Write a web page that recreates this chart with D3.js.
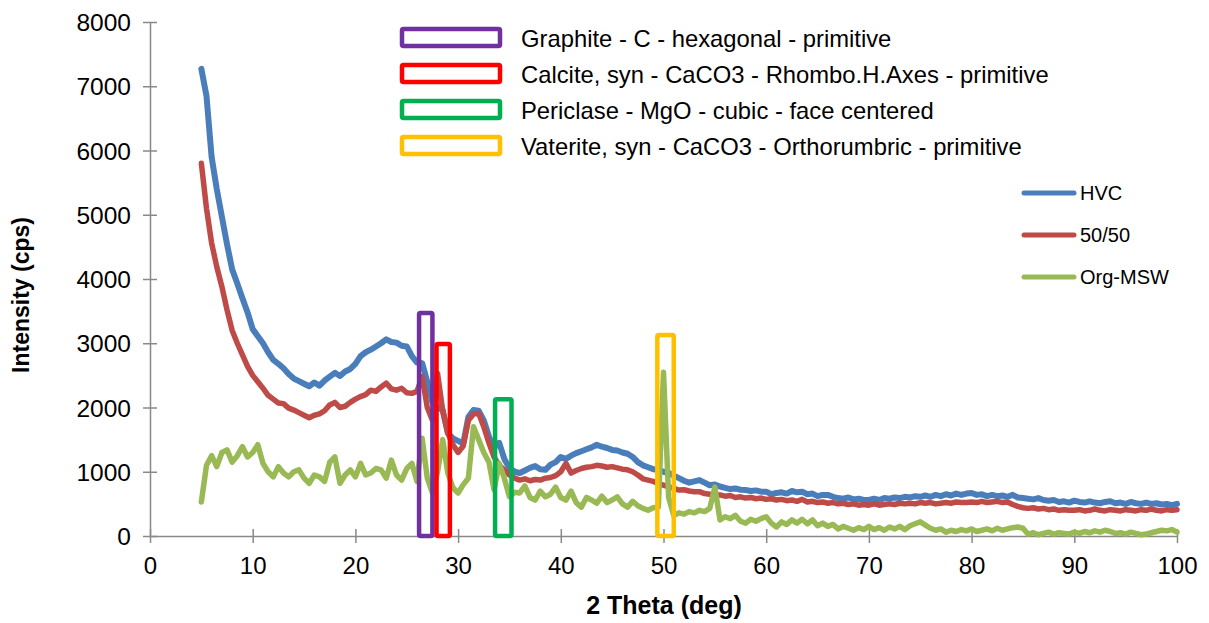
<!DOCTYPE html>
<html>
<head>
<meta charset="utf-8">
<script src="https://cdn.jsdelivr.net/npm/d3@7"></script>
<style>
  body { margin: 0; background: #fff; }
  text { font-family: "Liberation Sans", Arial, sans-serif; }
</style>
</head>
<body>
<script>
// 2 theta sampling grid: start at 5 deg, one reading every 0.5 deg up to 100
const thetaStart = 5;
const thetaStep = 0.5;

const hvc = [
  7270, 6850, 5900, 5400, 4970, 4540, 4150, 3930, 3700, 3480,
  3220, 3110, 3000, 2860, 2740, 2680, 2610, 2520, 2450, 2410,
  2370, 2330, 2390, 2340, 2420, 2480, 2540, 2490, 2560, 2600,
  2680, 2800, 2860, 2900, 2950, 3000, 3060, 3020, 3010, 2960,
  2950, 2800, 2700, 2690, 2400, 2080, 2000, 1960, 1600, 1520,
  1480, 1440, 1850, 1960, 1950, 1800, 1550, 1380, 1450, 1200,
  1060, 1000, 980, 1020, 1060, 1090, 1040, 1030, 1110, 1150,
  1230, 1200, 1250, 1290, 1320, 1350, 1380, 1420, 1390, 1370,
  1340, 1330, 1300, 1280, 1230, 1150, 1100, 1070, 1040, 1030,
  1000, 980, 940, 900, 860, 830, 850, 870, 830, 790,
  800, 770, 750, 730, 740, 720, 715, 700, 710, 690,
  690, 650, 670, 680, 660, 700, 680, 690, 650, 660,
  620, 640, 640, 610, 590, 580, 600, 570, 580, 560,
  560, 580, 560, 590, 580, 600, 590, 610, 600, 620,
  610, 630, 610, 640, 620, 650, 630, 660, 640, 660,
  670, 640, 650, 620, 640, 620, 630, 610, 640, 600,
  590, 580, 570, 590, 560, 550, 560, 530, 540, 520,
  550, 530, 520, 540, 520, 510, 530, 540, 510, 520,
  500, 530, 510, 500, 520, 500, 510, 490, 500, 480,
  500
];

const mix5050 = [
  5800, 5100, 4560, 4190, 3880, 3520, 3200, 3000, 2820, 2640,
  2500, 2400, 2300, 2190, 2130, 2070, 2060, 1990, 1960, 1920,
  1880, 1840, 1880, 1900, 1950, 2040, 2080, 2000, 2020, 2080,
  2130, 2170, 2200, 2270, 2250, 2320, 2380, 2290, 2270, 2300,
  2230, 2220, 2250, 2480, 2000, 1800, 2530, 1950, 1600, 1420,
  1300, 1400, 1800, 1900, 1910, 1700, 1450, 1230, 1100, 1030,
  950, 900, 870, 890, 860, 880, 870, 900, 910, 940,
  1000, 1130, 980, 1020, 1050, 1070, 1080, 1100, 1090, 1070,
  1080, 1060, 1040, 1030, 1000, 950, 890, 870, 850, 820,
  790, 770, 740, 715, 720, 700, 690, 690, 660, 650,
  640, 640, 620, 630, 600, 610, 590, 600, 580, 590,
  570, 580, 560, 570, 550, 560, 540, 570, 530, 540,
  520, 530, 510, 520, 500, 510, 490, 500, 480, 490,
  480, 500, 480, 490, 500, 490, 510, 500, 510, 500,
  520, 510, 520, 500, 510, 520, 510, 530, 520, 520,
  530, 520, 540, 520, 530, 540, 520, 530, 490, 460,
  440, 430, 440, 420, 430, 410, 420, 400, 410, 400,
  400, 410, 390, 400, 420, 400, 390, 410, 400, 390,
  410, 400, 390, 410, 400, 420, 400, 390, 410, 400,
  410
];

const orgMsw = [
  530, 1100, 1250, 1080, 1300, 1340, 1150, 1250, 1390, 1230,
  1300, 1420, 1130, 1000, 920, 1080, 980, 920, 1000, 1030,
  900, 820, 950, 920, 850, 1150, 1230, 820, 950, 1030,
  920, 1130, 950, 980, 1050, 1030, 900, 1180, 950, 870,
  1050, 1130, 850, 1520, 900, 670, 1000, 1500, 980, 750,
  670, 800, 900, 1700, 1500, 1300, 1150, 720, 1130, 900,
  610, 680, 670, 780, 600, 560, 700, 610, 650, 760,
  600, 560, 700, 520, 450, 600, 560, 510, 620, 520,
  560, 610, 500, 450, 540, 470, 430, 400, 440, 450,
  2550, 600, 320, 360, 340, 380, 360, 400, 380, 430,
  760, 250, 300, 270, 320, 230, 200, 260, 230, 270,
  300, 200, 140, 220, 180, 250, 200, 260, 190, 250,
  160, 200, 150, 180, 110, 150, 120, 90, 130, 100,
  150, 100, 130, 90, 140, 110, 150, 100, 160, 190,
  220, 170, 120, 90, 110, 60, 90, 70, 100, 80,
  110, 70, 90, 110, 80, 120, 90, 110, 130, 140,
  120, 30, 50, 20, 40, 60, 30, 50, 40, 30,
  60, 40, 70, 50, 80, 60, 90, 70, 40, 50,
  30, 60, 40, 20, 30, 50, 70, 90, 80, 100,
  60
];

const seriesNames = ["HVC", "50/50", "Org-MSW"];
const seriesColors = ["#4a7ebb", "#be4b48", "#98b954"];

// phase marker boxes: 2theta range and height (cps)
const phaseNames = [
  "Graphite - C - hexagonal - primitive",
  "Calcite, syn - CaCO3 - Rhombo.H.Axes - primitive",
  "Periclase - MgO - cubic - face centered",
  "Vaterite, syn - CaCO3 - Orthorumbric - primitive"
];
const phaseColors = ["#7030a0", "#ff0000", "#00b050", "#ffc000"];
const phaseFrom = [26.2, 27.9, 33.6, 49.4];
const phaseTo = [27.5, 29.2, 35.2, 51.0];
const phaseTop = [3470, 2990, 2130, 3130];

const xTicks = [0, 10, 20, 30, 40, 50, 60, 70, 80, 90, 100];
const yTicks = [0, 1000, 2000, 3000, 4000, 5000, 6000, 7000, 8000];

const width = 1209;
const height = 623;
const mLeft = 150, mRight = 1177, mTop = 22, mBottom = 536;

const x = d3.scaleLinear().domain([0, 100]).range([mLeft, mRight]);
const y = d3.scaleLinear().domain([0, 8000]).range([mBottom, mTop]);

const svg = d3.select("body")
    .append("svg")
    .attr("width", width)
    .attr("height", height);

const axisColor = "#898989";

const xAxis = svg.append("g")
    .attr("transform", `translate(0,${mBottom})`)
    .call(d3.axisBottom(x).tickValues(xTicks).tickFormat(d3.format("d")).tickSize(7).tickSizeOuter(0));
xAxis.selectAll(".tick line").attr("y1", -7);
const yAxis = svg.append("g")
    .attr("transform", `translate(${mLeft},0)`)
    .call(d3.axisLeft(y).tickValues(yTicks).tickFormat(d3.format("d")).tickSize(7).tickSizeOuter(0));
yAxis.selectAll(".tick line").attr("x1", 7);

[xAxis, yAxis].forEach(g => {
    g.select(".domain").attr("stroke", axisColor).attr("stroke-width", 1.5);
    g.selectAll(".tick line").attr("stroke", axisColor).attr("stroke-width", 1.5);
    g.selectAll(".tick text")
        .attr("fill", "#000")
        .style("font-family", "'Liberation Sans', Arial, sans-serif");
});
xAxis.selectAll(".tick text").style("font-size", "24px").attr("y", 15).attr("dy", "0.95em");
yAxis.selectAll(".tick text").style("font-size", "24.5px").attr("x", -19).attr("dy", "0.35em");

svg.append("text")
    .attr("transform", `translate(29,295) rotate(-90)`)
    .attr("text-anchor", "middle")
    .style("font-size", "23px")
    .style("font-weight", "bold")
    .text("Intensity (cps)");

svg.append("text")
    .attr("x", 664)
    .attr("y", 614)
    .attr("text-anchor", "middle")
    .style("font-size", "25px")
    .style("font-weight", "bold")
    .text("2 Theta (deg)");

const line = d3.line()
    .x((d, i) => x(thetaStart + i * thetaStep))
    .y(d => y(d));

[hvc, mix5050, orgMsw].forEach((s, k) => {
    svg.append("path")
        .datum(s)
        .attr("d", line)
        .attr("fill", "none")
        .attr("stroke", seriesColors[k])
        .attr("stroke-width", k === 0 ? 6 : 5.5)
        .attr("stroke-linejoin", "round")
        .attr("stroke-linecap", "round");
});

// phase boxes over the patterns
svg.selectAll(".phaseBox")
    .data(phaseNames)
    .enter()
    .append("rect")
    .attr("x", (d, i) => x(phaseFrom[i]))
    .attr("y", (d, i) => y(phaseTop[i]))
    .attr("width", (d, i) => x(phaseTo[i]) - x(phaseFrom[i]))
    .attr("height", (d, i) => y(0) - y(phaseTop[i]))
    .attr("fill", "none")
    .attr("stroke", (d, i) => phaseColors[i])
    .attr("stroke-width", 4.5)
    .attr("rx", 1.5);

// phase legend
const phaseLegend = svg.append("g").attr("transform", "translate(402,38)");
phaseNames.forEach((name, i) => {
    phaseLegend.append("rect")
        .attr("x", 0).attr("y", i * 36 - 9)
        .attr("width", 98).attr("height", 17)
        .attr("fill", "none")
        .attr("stroke", phaseColors[i])
        .attr("stroke-width", 4.5)
        .attr("rx", 1.5);
    phaseLegend.append("text")
        .attr("x", 119).attr("y", i * 36 + 1)
        .attr("dy", "0.35em")
        .style("font-size", "23.8px")
        .text(name);
});

// series legend
const seriesLegend = svg.append("g").attr("transform", "translate(1024,193)");
seriesNames.forEach((name, i) => {
    seriesLegend.append("line")
        .attr("x1", 0).attr("x2", 50)
        .attr("y1", i * 42).attr("y2", i * 42)
        .attr("stroke", seriesColors[i])
        .attr("stroke-width", 5)
        .attr("stroke-linecap", "round");
    seriesLegend.append("text")
        .attr("x", 56).attr("y", i * 42)
        .attr("dy", "0.35em")
        .style("font-size", "20px")
        .text(name);
});
</script>
</body>
</html>
